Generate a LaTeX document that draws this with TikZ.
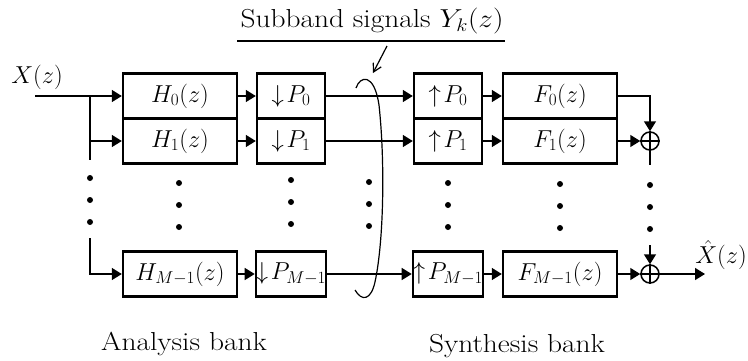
\documentclass[tikz,border=0pt]{standalone}
\usepackage{fix-cm}
\usepackage{fontspec}
\usepackage{graphicx}
\usetikzlibrary{arrows.meta}
\newcommand{\widetxt}[1]{\scalebox{1.13}[1]{#1}}
\begin{document}
\begin{tikzpicture}[x=1pt,y=-1pt,
  blk/.style={draw,line width=2.4pt,minimum height=45pt,inner sep=0pt,font=\fontsize{24.5}{29}\selectfont},
  wide/.style={blk,minimum width=114pt},
  narrow/.style={blk,minimum width=68pt},
  sig/.style={line width=1.5pt},
  arr/.style={sig,-{Triangle[length=10pt,width=12pt]}},
  sum/.style={circle,draw,line width=1.5pt,minimum size=18pt,inner sep=0pt},
  lbl/.style={font=\fontsize{24.5}{29}\selectfont,inner sep=0pt},
  txt/.style={font=\fontsize{26}{31}\selectfont,inner sep=0pt}]
\useasboundingbox (0,0) rectangle (748,360);

% analysis bank
\node[wide] (H0) at (180,96) {$H_0(z)$};
\node[wide] (H1) at (180,141) {$H_1(z)$};
\node[wide] (HM) at (180,274) {$H_{M-1}(z)$};
\node[narrow] (D0) at (291,96) {$\downarrow\! P_0$};
\node[narrow] (D1) at (291,141) {$\downarrow\! P_1$};
\node[narrow] (DM) at (291,274) {$\downarrow\! P_{M-1}$};
% synthesis bank
\node[narrow] (U0) at (448,96) {$\uparrow\! P_0$};
\node[narrow] (U1) at (448,141) {$\uparrow\! P_1$};
\node[narrow] (UM) at (448,274) {$\uparrow\! P_{M-1}$};
\node[wide] (F0) at (560,96) {$F_0(z)$};
\node[wide] (F1) at (560,141) {$F_1(z)$};
\node[wide] (FM) at (560,274) {$F_{M-1}(z)$};
% adders
\node[sum] (S1) at (650,141) {};
\node[sum] (SM) at (650,274) {};
\draw[sig] (S1.north) -- (S1.south) (S1.west) -- (S1.east);
\draw[sig] (SM.north) -- (SM.south) (SM.west) -- (SM.east);

% input
\node[lbl] (X) at (37,77) {$X(z)$};
\coordinate (in) at (35,96);
\coordinate (br0) at (90,96);
\coordinate (br1) at (90,141);
\coordinate (brb) at (90,160);
\coordinate (brl) at (90,238);
\draw[arr] (in) -- (H0.west);
\draw[sig] (br0) -- (brb);
\draw[arr] (br1) -- (H1.west);
\draw[arr] (brl) |- (HM.west);

% analysis -> downsamplers -> upsamplers -> synthesis
\draw[arr] (H0.east) -- (D0.west);
\draw[arr] (H1.east) -- (D1.west);
\draw[arr] (HM.east) -- (DM.west);
\draw[arr] (D0.east) -- (U0.west);
\draw[arr] (D1.east) -- (U1.west);
\draw[arr] (DM.east) -- (UM.west);
\draw[arr] (U0.east) -- (F0.west);
\draw[arr] (U1.east) -- (F1.west);
\draw[arr] (UM.east) -- (FM.west);

% outputs to adders
\draw[arr] (F0.east) -| (S1.north);
\draw[arr] (F1.east) -- (S1.west);
\draw[arr] (FM.east) -- (SM.west);
\coordinate (S1b) at (650,165);
\draw[sig] (S1.south) -- (S1b);
\coordinate (SMt) at (650,245);
\draw[arr] (SMt) -- (SM.north);
\coordinate (out) at (705,274);
\draw[arr] (SM.east) -- (out);
\node[lbl] (Xh) at (721,255) {$\hat{X}(z)$};

% dots
\foreach \x/\y in {90/178,179/183,291/180,369/182,448/183,560/184,650/185}{
  \fill (\x,\y) circle (3pt);
  \fill (\x,\y+22) circle (3pt);
  \fill (\x,\y+44) circle (3pt);
}

% subband bracket
\draw[line width=1.2pt] (356,88) .. controls (360,76) and (374,72) .. (379,105)
  .. controls (385,160) and (384,240) .. (375,282)
  .. controls (371,300) and (362,302) .. (355,290);

% title and pointer
\node[txt] (T) at (372,21) {\widetxt{Subband signals $Y_k(z)$}};
\coordinate (ul1) at (237,41);
\coordinate (ul2) at (505,41);
\draw[line width=1.3pt] (ul1) -- (ul2);
\coordinate (a1) at (387,46);
\coordinate (a2) at (373,73);
\draw[line width=1.2pt,-{Straight Barb[length=8pt,width=9pt]}] (a1) -- (a2);

% captions
\node[txt] (AB) at (184,344) {\widetxt{Analysis bank}};
\node[txt] (SB) at (517,346) {\widetxt{Synthesis bank}};
\end{tikzpicture}
\end{document}
